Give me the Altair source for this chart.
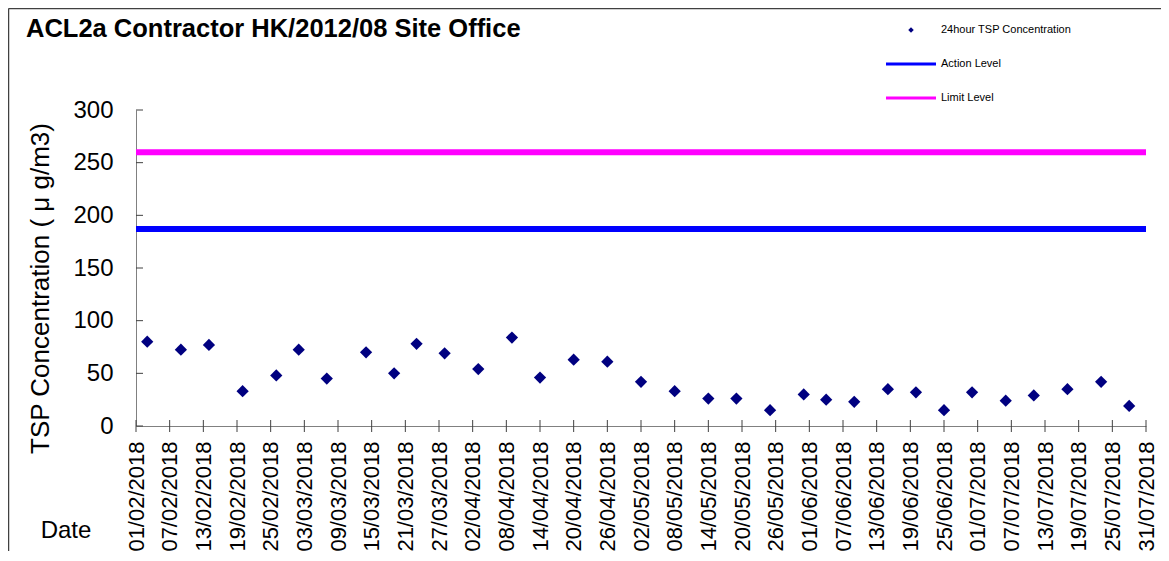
import altair as alt
import pandas as pd

# ---------------- data ----------------
title_text = "ACL2a Contractor HK/2012/08 Site Office"
x_title = "Date"
y_title = "TSP Concentration ( μ g/m3)"

sample_dates = [
    "2018-02-03", "2018-02-09", "2018-02-14", "2018-02-20", "2018-02-26",
    "2018-03-02", "2018-03-07", "2018-03-14", "2018-03-19", "2018-03-23",
    "2018-03-28", "2018-04-03", "2018-04-09", "2018-04-14", "2018-04-20",
    "2018-04-26", "2018-05-02", "2018-05-08", "2018-05-14", "2018-05-19",
    "2018-05-25", "2018-05-31", "2018-06-04", "2018-06-09", "2018-06-15",
    "2018-06-20", "2018-06-25", "2018-06-30", "2018-07-06", "2018-07-11",
    "2018-07-17", "2018-07-23", "2018-07-28",
]
tsp_values = [
    80, 72.5, 77, 33, 48,
    72.5, 45, 70, 50, 78,
    69, 54, 84, 46, 63,
    61, 42, 33, 26, 26,
    15, 30, 25, 23, 35,
    32, 15, 32, 24, 29,
    35, 42, 19,
]
series_names = ["24hour TSP Concentration", "Action Level", "Limit Level"]
series_colors = ["#000080", "#0000FF", "#FF00FF"]
level_names = ["Action Level", "Limit Level"]
level_values = [187, 260]

tick_labels = [
    "01/02/2018", "07/02/2018", "13/02/2018", "19/02/2018", "25/02/2018",
    "03/03/2018", "09/03/2018", "15/03/2018", "21/03/2018", "27/03/2018",
    "02/04/2018", "08/04/2018", "14/04/2018", "20/04/2018", "26/04/2018",
    "02/05/2018", "08/05/2018", "14/05/2018", "20/05/2018", "26/05/2018",
    "01/06/2018", "07/06/2018", "13/06/2018", "19/06/2018", "25/06/2018",
    "01/07/2018", "07/07/2018", "13/07/2018", "19/07/2018", "25/07/2018",
    "31/07/2018",
]
y_ticks = [0, 50, 100, 150, 200, 250, 300]

# ---------------- tables ----------------
tick_ms = [int(pd.to_datetime(t, format="%d/%m/%Y").value // 10**6) for t in tick_labels]

points_df = pd.DataFrame({"date": sample_dates, "tsp": tsp_values,
                          "series": [series_names[0]] * len(sample_dates)})
levels_df = pd.DataFrame({"series": level_names, "value": level_values})
xticks_df = pd.DataFrame({"date": tick_ms})
yticks_df = pd.DataFrame({"tsp": y_ticks})

W, H = 1010, 316
FONT = "Liberation Sans"

x_scale = alt.Scale(type="utc", domain=[tick_ms[0], tick_ms[-1]], nice=False)
y_scale = alt.Scale(domain=[0, 300], nice=False)
color_scale = alt.Scale(domain=series_names, range=series_colors)


def x_axis():
    return alt.Axis(values=tick_ms, format="%d/%m/%Y", labelAngle=-90,
                    labelFontSize=22, labelPadding=15, labelColor="black",
                    ticks=False, domainColor="#808080",
                    title=x_title, titleX=-70.5, titleY=111, titleAngle=0,
                    titleAlign="center", titleBaseline="alphabetic",
                    titleFontSize=24, titleFontWeight="normal", titleColor="black",
                    labelOverlap=False)


def y_axis():
    return alt.Axis(values=y_ticks, labelFontSize=24, labelPadding=23, labelColor="black",
                    ticks=False, domainColor="#808080",
                    title=y_title, titleX=-88, titleY=178, titleAngle=270,
                    titleAlign="center", titleBaseline="alphabetic",
                    titleFontSize=26, titleFontWeight="normal", titleColor="black")


def X(field):
    return alt.X(field, scale=x_scale, axis=x_axis())


def Y(field):
    return alt.Y(field, scale=y_scale, axis=y_axis())


limits = alt.Chart(levels_df).mark_rule(strokeWidth=6).encode(
    y=Y("value:Q"),
    color=alt.Color("series:N", scale=color_scale, legend=None),
)

points = alt.Chart(points_df).mark_point(shape="diamond", filled=True, size=150, opacity=1).encode(
    x=X("date:T"),
    y=Y("tsp:Q"),
    color=alt.Color("series:N", scale=color_scale, legend=None),
)

xticks = alt.Chart(xticks_df).mark_rule(color="#404040", strokeWidth=1).encode(
    x=X("date:T"),
    y=alt.value(H - 6), y2=alt.value(H + 6),
)
yticks = alt.Chart(yticks_df).mark_rule(color="#404040", strokeWidth=1).encode(
    y=Y("tsp:Q"),
    x=alt.value(0), x2=alt.value(7),
)

title_layer = alt.Chart(pd.DataFrame({"label": [title_text]})).mark_text(
    align="left", baseline="alphabetic", font=FONT, fontSize=25.5, fontWeight="bold", color="black"
).encode(text="label:N", x=alt.value(-110), y=alt.value(-73))

# ---------------- manual legend (top right) ----------------
LEG_SYM_X, LEG_Y0, LEG_DY = 775, -80, 34
legend_layers = []
for i, (name, col) in enumerate(zip(series_names, series_colors)):
    row = pd.DataFrame({"label": [name]})
    yy = LEG_Y0 + i * LEG_DY
    if i == 0:
        sym = alt.Chart(row).mark_point(shape="diamond", filled=True, size=30, opacity=1, color=col).encode(
            x=alt.value(LEG_SYM_X), y=alt.value(yy))
    else:
        sym = alt.Chart(row).mark_rule(strokeWidth=3, color=col).encode(
            x=alt.value(LEG_SYM_X - 25), x2=alt.value(LEG_SYM_X + 25), y=alt.value(yy))
    txt = alt.Chart(row).mark_text(align="left", baseline="middle", font=FONT, fontSize=11, color="black").encode(
        text="label:N", x=alt.value(LEG_SYM_X + 30), y=alt.value(yy))
    legend_layers += [sym, txt]

frame_left = alt.Chart(pd.DataFrame({"a": [0]})).mark_rule(color="#404040", strokeWidth=1.5).encode(
    x=alt.value(-127.5), y=alt.value(-101.5), y2=alt.value(H + 125))
frame_top = alt.Chart(pd.DataFrame({"a": [0]})).mark_rule(color="#404040", strokeWidth=1.5).encode(
    x=alt.value(-127.5), x2=alt.value(W + 15), y=alt.value(-101.5))

chart = alt.layer(
    limits, points, xticks, yticks, title_layer, *legend_layers, frame_left, frame_top
).properties(
    width=W, height=H,
    autosize=alt.AutoSizeParams(type="none"),
    padding={"left": 128, "top": 102, "right": 15, "bottom": 125},
).configure_view(stroke=None).configure_axis(
    labelFont=FONT, titleFont=FONT, grid=False
)

chart.save("out.html", embed_options={"renderer": "svg", "actions": False})
